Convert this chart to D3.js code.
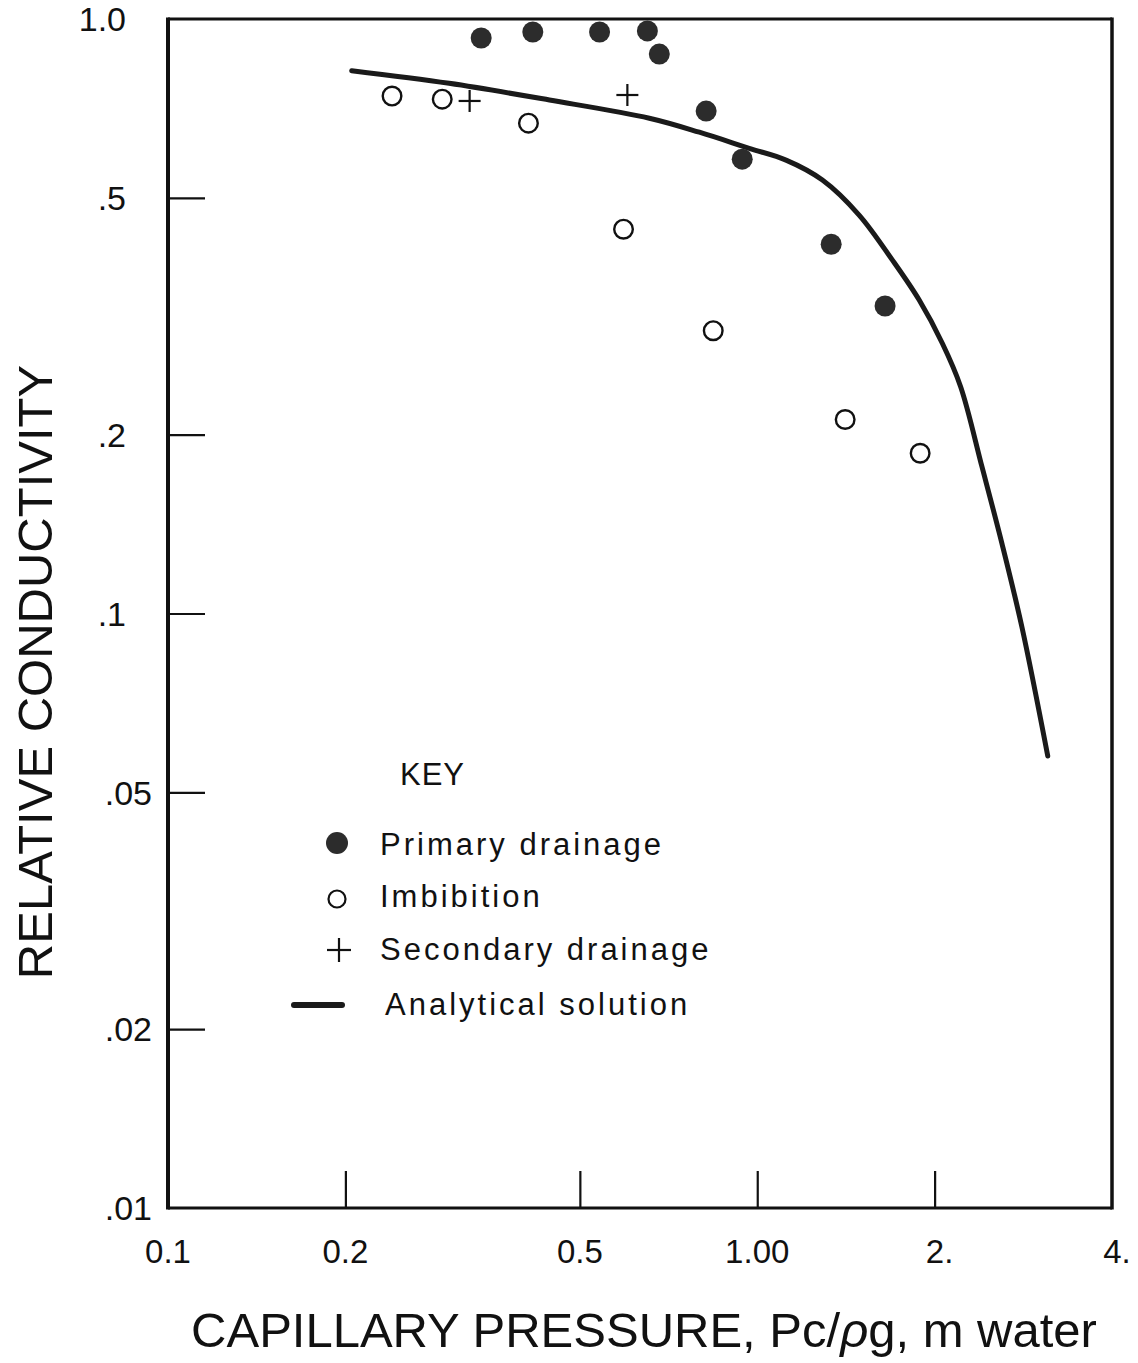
<!DOCTYPE html>
<html>
<head>
<meta charset="utf-8">
<script src="https://cdn.jsdelivr.net/npm/d3@7"></script>
<style>
  html, body { margin: 0; padding: 0; background: #fff; }
  svg { display: block; }
  text { font-family: "Liberation Sans", Arial, Helvetica, sans-serif; fill: #111; }
</style>
</head>
<body>
<svg id="chart" width="1138" height="1363"></svg>
<script>
// Relative conductivity versus capillary pressure (log-log)

// Primary drainage (filled circles)
const primaryPc = [0.340, 0.416, 0.540, 0.651, 0.682, 0.819, 0.943, 1.335, 1.648];
const primaryK  = [0.929, 0.951, 0.951, 0.955, 0.873, 0.700, 0.581, 0.418, 0.329];

// Imbibition (open circles)
const imbibitionPc = [0.240, 0.292, 0.409, 0.593, 0.842, 1.41, 1.89];
const imbibitionK  = [0.742, 0.733, 0.668, 0.443, 0.299, 0.212, 0.186];

// Secondary drainage (crosses)
const secondaryPc = [0.325, 0.602];
const secondaryK  = [0.728, 0.745];

// Analytical solution (solid curve)
const analyticalPc = [0.205, 0.300, 0.444, 0.656, 0.7975, 0.969, 1.119, 1.290, 1.489, 1.696, 1.882, 2.061, 2.214, 2.407, 2.602, 2.813, 3.112];
const analyticalK  = [0.8186, 0.7795, 0.7307, 0.681, 0.645, 0.606, 0.579, 0.536, 0.468, 0.393, 0.337, 0.2848, 0.2407, 0.1764, 0.1311, 0.0949, 0.0576];

// Axis ticks
const xTickValues = [0.1, 0.2, 0.5, 1, 2, 4];
const xTickLabels = ["0.1", "0.2", "0.5", "1.00", "2.", "4."];
const yTickValues = [1, 0.5, 0.2, 0.1, 0.05, 0.02, 0.01];
const yTickLabels = ["1.0", ".5", ".2", ".1", ".05", ".02", ".01"];

const legendLabels = ["Primary drainage", "Imbibition", "Secondary drainage", "Analytical solution"];
const xTitle = "CAPILLARY PRESSURE, ";
const yTitle = "RELATIVE CONDUCTIVITY";

const svg = d3.select("#chart");
const ink = "#111";

const plotLeft = 168, plotRight = 1112, plotTop = 19, plotBottom = 1208;
const x = d3.scaleLog().domain([0.1, 4]).range([plotLeft, plotRight]);
const y = d3.scaleLog().domain([0.01, 1]).range([plotBottom, plotTop]);

// Inward tick marks (inner values only; the ends sit on the frame)
const innerX = xTickValues.slice(1, -1);
const innerY = yTickValues.slice(1, -1);

const xAxis = svg.append("g")
  .attr("transform", `translate(0,${plotBottom})`)
  .call(d3.axisBottom(x).tickValues(innerX).tickSize(-37).tickFormat(""));
xAxis.select(".domain").remove();
xAxis.selectAll(".tick line").attr("stroke", ink).attr("stroke-width", 2.2);

const yAxis = svg.append("g")
  .attr("transform", `translate(${plotLeft},0)`)
  .call(d3.axisLeft(y).tickValues(innerY).tickSize(-37).tickFormat(""));
yAxis.select(".domain").remove();
yAxis.selectAll(".tick line").attr("stroke", ink).attr("stroke-width", 2.2);

// Frame
const frame = svg.append("g").attr("stroke", ink).attr("fill", "none");
frame.append("line").attr("x1", plotLeft).attr("x2", plotLeft).attr("y1", plotTop - 1.5).attr("y2", plotBottom + 1.5).attr("stroke-width", 4);
frame.append("line").attr("x1", plotLeft).attr("x2", plotRight).attr("y1", plotBottom).attr("y2", plotBottom).attr("stroke-width", 3);
frame.append("line").attr("x1", plotLeft).attr("x2", plotRight).attr("y1", plotTop).attr("y2", plotTop).attr("stroke-width", 2.8);
frame.append("line").attr("x1", plotRight).attr("x2", plotRight).attr("y1", plotTop - 1.5).attr("y2", plotBottom + 1.5).attr("stroke-width", 3.5);

// Tick labels
svg.append("g").selectAll("text")
  .data(xTickValues.map((v, i) => ({ v, t: xTickLabels[i] })))
  .join("text")
  .attr("x", d => x(d.v) + (d.t.endsWith(".") ? 5 : 0))
  .attr("y", 1263)
  .attr("text-anchor", "middle")
  .attr("font-size", 33)
  .text(d => d.t);

svg.append("g").selectAll("text")
  .data(yTickValues.map((v, i) => ({ v, t: yTickLabels[i] })))
  .join("text")
  .attr("x", d => d.v < 0.1 ? 152 : 126)
  .attr("y", d => y(d.v))
  .attr("dy", "0.36em")
  .attr("text-anchor", "end")
  .attr("font-size", 34)
  .text(d => d.t);

// Axis titles
const xt = svg.append("text")
  .attr("x", 644).attr("y", 1347)
  .attr("text-anchor", "middle")
  .attr("font-size", 49);
xt.append("tspan").text(xTitle + "Pc/");
xt.append("tspan").attr("font-style", "italic").text("\u03C1");
xt.append("tspan").text("g, m water");

svg.append("text")
  .attr("transform", "translate(52,672) rotate(-90)")
  .attr("text-anchor", "middle")
  .attr("font-size", 49)
  .text(yTitle);

// Analytical curve
const curve = d3.line()
  .x(d => x(d[0]))
  .y(d => y(d[1]))
  .curve(d3.curveCatmullRom.alpha(0.5));
svg.append("path")
  .datum(analyticalPc.map((v, i) => [v, analyticalK[i]]))
  .attr("d", curve)
  .attr("fill", "none")
  .attr("stroke", "#1a1a1a")
  .attr("stroke-width", 5)
  .attr("stroke-linecap", "round")
  .attr("stroke-linejoin", "round");

// Markers
const filledColor = "#2c2c2c";
svg.append("g").selectAll("circle")
  .data(primaryPc.map((v, i) => [v, primaryK[i]]))
  .join("circle")
  .attr("cx", d => x(d[0])).attr("cy", d => y(d[1]))
  .attr("r", 10.5)
  .attr("fill", filledColor);

svg.append("g").selectAll("circle")
  .data(imbibitionPc.map((v, i) => [v, imbibitionK[i]]))
  .join("circle")
  .attr("cx", d => x(d[0])).attr("cy", d => y(d[1]))
  .attr("r", 9.3)
  .attr("fill", "#fff")
  .attr("stroke", ink)
  .attr("stroke-width", 2.4);

const cross = (g, cx, cy, h) => {
  g.append("line").attr("x1", cx - h).attr("x2", cx + h).attr("y1", cy).attr("y2", cy);
  g.append("line").attr("x1", cx).attr("x2", cx).attr("y1", cy - h).attr("y2", cy + h);
};
const crosses = svg.append("g").attr("stroke", ink).attr("stroke-width", 2.2);
secondaryPc.forEach((v, i) => cross(crosses, x(v), y(secondaryK[i]), 11));

// Key
const key = svg.append("g");
key.append("text").attr("x", 400).attr("y", 785).attr("font-size", 31).attr("letter-spacing", 1).text("KEY");

const rowMarkY = [843, 899, 950, 1005];
const rowTextY = [855, 907, 960, 1015];
const rowTextX = [380, 380, 380, 385];
legendLabels.forEach((t, i) => {
  key.append("text")
    .attr("x", rowTextX[i]).attr("y", rowTextY[i])
    .attr("font-size", 31)
    .attr("letter-spacing", 3)
    .text(t);
});
key.append("circle").attr("cx", 337).attr("cy", rowMarkY[0]).attr("r", 11).attr("fill", filledColor);
key.append("circle").attr("cx", 337).attr("cy", rowMarkY[1]).attr("r", 8.5)
  .attr("fill", "#fff").attr("stroke", ink).attr("stroke-width", 2.2);
const keyCross = key.append("g").attr("stroke", ink).attr("stroke-width", 2.2);
cross(keyCross, 339, rowMarkY[2], 12);
key.append("line").attr("x1", 294).attr("x2", 342).attr("y1", rowMarkY[3]).attr("y2", rowMarkY[3])
  .attr("stroke", "#1a1a1a").attr("stroke-width", 6).attr("stroke-linecap", "round");
</script>
</body>
</html>
